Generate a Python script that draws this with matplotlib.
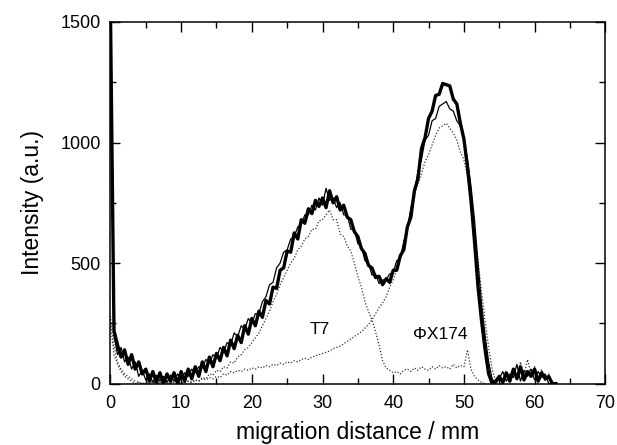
import numpy as np
import matplotlib
matplotlib.use("Agg")
import matplotlib.pyplot as plt

plt.rcParams['font.family'] = ['Liberation Sans', 'DejaVu Sans']

# samples every 0.5 mm
step = 0.5

measured = [
    1550, 220, 160, 110, 140, 80, 120, 60, 90, 40,
    60, 10, 50, 5, 45, 0, 40, 10, 45, 0,
    50, 10, 60, 20, 70, 30, 90, 50, 110, 70,
    125, 95, 150, 115, 180, 145, 200, 170, 240, 205,
    270, 240, 300, 275, 345, 330, 400, 395, 470, 480,
    550, 545, 625, 600, 680, 665, 725, 705, 760, 735,
    770, 730, 800, 750, 775, 720, 740, 690, 680, 630,
    610, 560, 540, 490, 480, 440, 445, 410, 435, 420,
    470, 470, 530, 555, 650, 690, 800, 850, 975, 1020,
    1100, 1130, 1195, 1200, 1245, 1240, 1235, 1180, 1160, 1080,
    1015, 900, 760, 590, 400, 260, 140, 40, 0, 10,
    30, 5, 45, 10, 60, 20, 70, 15, 50, 30,
    60, 10, 45, 20, 30, 0, 0,
]

fit_sum = [
    1550, 200, 120, 150, 90, 110, 60, 90, 30, 55,
    15, 40, 5, 35, 10, 30, 5, 35, 10, 40,
    15, 45, 30, 60, 45, 70, 65, 100, 85, 120,
    105, 150, 130, 170, 160, 210, 195, 240, 225, 270,
    250, 290, 290, 340, 360, 410, 420, 480, 500, 545,
    555, 600, 610, 650, 660, 700, 700, 740, 720, 770,
    740, 810, 760, 770, 730, 750, 700, 700, 640, 640,
    580, 570, 510, 500, 450, 455, 415, 430, 430, 455,
    460, 510, 520, 590, 640, 730, 790, 880, 930, 1010,
    1030, 1090, 1100, 1150, 1160, 1170, 1140, 1130, 1090, 1070,
    1010, 930, 820, 680, 500, 330, 200, 90, 20, 0,
    20, 50, 10, 40, 25, 80, 10, 55, 30, 60,
    15, 50, 25, 40, 0, 0, 0,
]

t7 = [
    280, 160, 90, 60, 40, 30, 20, 10, 5, 0,
    5, 0, 10, 0, 5, 0, 5, 0, 10, 0,
    5, 0, 10, 5, 15, 10, 25, 20, 40, 35,
    55, 50, 70, 65, 90, 85, 110, 120, 140, 150,
    170, 190, 210, 240, 270, 300, 340, 370, 410, 440,
    470, 500, 520, 555, 570, 600, 610, 640, 640, 675,
    680, 700, 720, 680, 680, 620, 610, 570, 550, 500,
    445, 400, 340, 300, 265, 215, 160, 95, 65, 55,
    45, 50, 40, 55, 60, 50, 65, 55, 70, 60,
    55, 70, 60, 75, 65, 70, 60, 80, 65, 75,
    70, 140, 60, 30, 15, 5, 0,
]

phix174 = [
    250, 120, 80, 50, 30, 20, 10, 0, 5, 0,
    0, 5, 0, 10, 0, 5, 0, 0, 5, 0,
    5, 0, 10, 5, 15, 10, 20, 15, 25, 20,
    30, 25, 40, 35, 50, 45, 55, 50, 60, 55,
    65, 60, 70, 65, 75, 70, 80, 75, 85, 80,
    90, 85, 95, 90, 100, 105, 100, 110, 115, 120,
    125, 130, 135, 145, 150, 155, 165, 175, 185, 195,
    205, 215, 230, 245, 265, 290, 315, 335, 360, 400,
    430, 470, 520, 580, 650, 720, 780, 830, 870, 920,
    950, 990, 1030, 1060, 1070, 1080, 1060, 1040, 1010, 960,
    930, 860, 760, 640, 510, 380, 260, 150, 60, 10,
    20, 0, 40, 10, 60, 20, 90, 30, 100, 40,
    70, 20, 60, 10, 40, 0, 0,
]

labels = ["T7", "\u03a6X174"]
label_pos = [(29.6, 226), (46.7, 205)]

fig = plt.figure(figsize=(6.17, 4.45), dpi=100)
ax = fig.add_axes([0.179, 0.138, 0.802, 0.8126])

x_meas = np.arange(len(measured)) * step
x_fit = np.arange(len(fit_sum)) * step
x_t7 = np.arange(len(t7)) * step
x_phi = np.arange(len(phix174)) * step

ax.plot(x_t7, t7, color='#333333', lw=0.9, ls=(0, (1, 1.5)))
ax.plot(x_phi, phix174, color='#333333', lw=0.9, ls=(0, (1, 1.5)))
ax.plot(x_fit, fit_sum, color='black', lw=0.9)
ax.plot(x_meas, measured, color='black', lw=2.4)

for txt, (tx, ty) in zip(labels, label_pos):
    ax.text(tx, ty, txt, fontsize=12.5, ha='center', va='center')

ax.set_xlim(0, 70)
ax.set_ylim(0, 1500)
ax.set_xticks(range(0, 71, 10))
ax.set_xticks(range(0, 71, 5), minor=True)
ax.set_yticks(range(0, 1501, 500))
ax.set_yticks(range(0, 1501, 250), minor=True)
ax.tick_params(which='both', direction='in', top=True, right=True, labelsize=13)
ax.tick_params(axis='y', which='major', pad=7)
ax.tick_params(axis='x', which='major', pad=8)
ax.tick_params(which='major', length=7, width=1)
ax.tick_params(which='minor', length=4, width=1)
for s in ax.spines.values():
    s.set_linewidth(1.1)

ax.set_xlabel("migration distance / mm", fontsize=16.5, labelpad=7)
ax.set_ylabel("Intensity (a.u.)", fontsize=16.5, labelpad=12)

fig.savefig("out.png", dpi=100)
